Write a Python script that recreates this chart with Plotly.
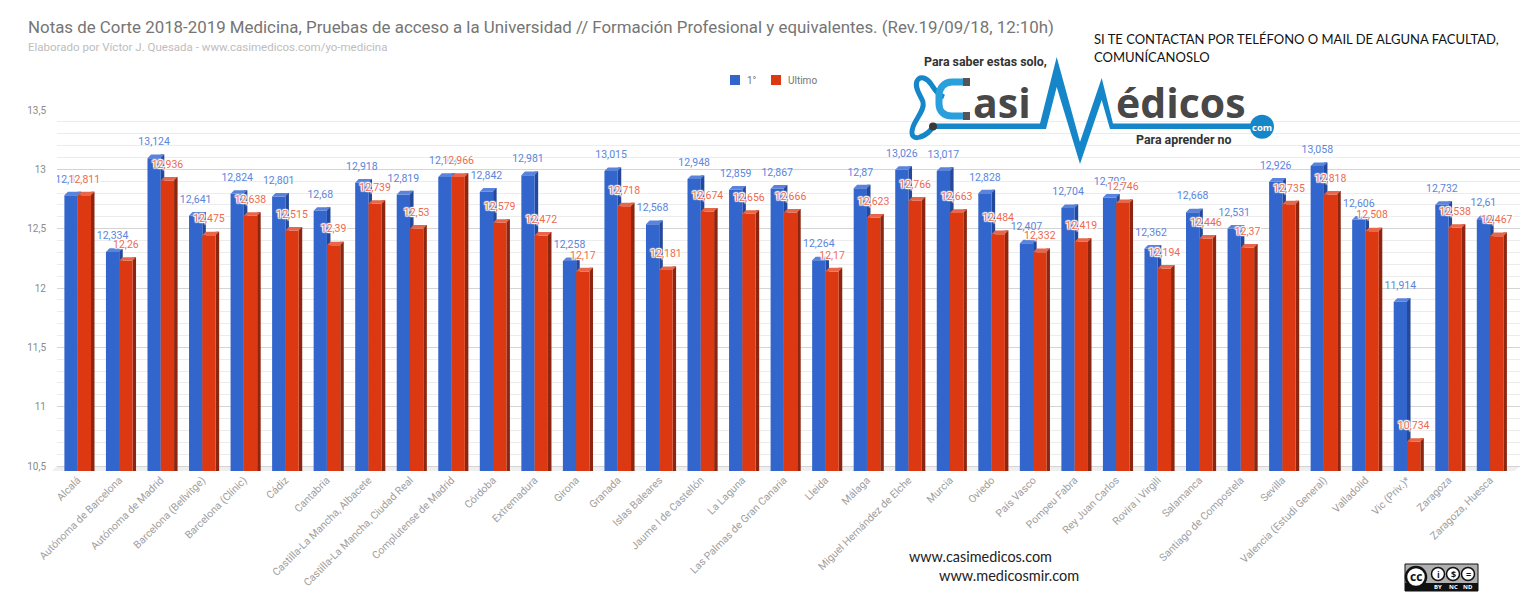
import plotly.graph_objects as go

# datos
universidades = ["Alcalá", "Autónoma de Barcelona", "Autónoma de Madrid", "Barcelona (Bellvitge)", "Barcelona (Clínic)",
	"Cádiz", "Cantabria", "Castilla-La Mancha, Albacete", "Castilla-La Mancha, Ciudad Real", "Complutense de Madrid",
	"Córdoba", "Extremadura", "Girona", "Granada", "Islas Baleares", "Jaume I de Castellón", "La Laguna",
	"Las Palmas de Gran Canaria", "Lleida", "Málaga", "Miguel Hernández de Elche", "Murcia", "Oviedo", "País Vasco",
	"Pompeu Fabra", "Rey Juan Carlos", "Rovira i Virgili", "Salamanca", "Santiago de Compostela", "Sevilla",
	"Valencia (Estudi General)", "Valladolid", "Vic (Priv.)*", "Zaragoza", "Zaragoza, Huesca"]
primero = [12.811, 12.334, 13.124, 12.641, 12.824, 12.801, 12.68, 12.918, 12.819, 12.966, 12.842, 12.981, 12.258,
	13.015, 12.568, 12.948, 12.859, 12.867, 12.264, 12.87, 13.026, 13.017, 12.828, 12.407, 12.704, 12.792, 12.362,
	12.668, 12.531, 12.926, 13.058, 12.606, 11.914, 12.732, 12.61]
ultimo = [12.811, 12.26, 12.936, 12.475, 12.638, 12.515, 12.39, 12.739, 12.53, 12.966, 12.579, 12.472, 12.17,
	12.718, 12.181, 12.674, 12.656, 12.666, 12.17, 12.623, 12.766, 12.663, 12.484, 12.332, 12.419, 12.746, 12.194,
	12.446, 12.37, 12.735, 12.818, 12.508, 10.734, 12.538, 12.467]
y_ticks = [10.5, 11, 11.5, 12, 12.5, 13, 13.5]
y_labels = ["10,5", "11", "11,5", "12", "12,5", "13", "13,5"]

W = 1536
H = 604
#Medidas del efecto 3D
ancho = 0.32
lado = 0.085
prof = 0.03
x = list(range(len(universidades)))

def px(v):
	return v / W

def py(v):
	return 1 - v / H

def etiqueta(v):
	return f"{v:g}".replace(".", ",")

def tapas(valores, x0):
	xs = []
	ys = []
	for i, v in zip(x, valores):
		xs += [i + x0, i + x0 + lado, i + x0 + ancho + lado, i + x0 + ancho, None]
		ys += [v - prof, v, v, v - prof, None]
	return go.Scatter(x=xs, y=ys, mode="lines", fill="toself", showlegend=False, hoverinfo="skip")

fig = go.Figure()

series = [("1°", primero, -ancho, "#3366cc", "#24489a", "#5a84dc", "#5c85dc"),
	("Ultimo", ultimo, 0, "#dc3912", "#8c2610", "#e8674a", "#ee6a4d")]

for nombre, valores, x0, frente, sombra, tapa, texto in series:
	fig.add_trace(go.Bar(x=x, y=valores, offset=x0 + ancho, width=lado, marker=dict(color=sombra, line_width=0),
		showlegend=False, hoverinfo="skip"))
	fig.add_trace(go.Bar(x=x, y=[v - prof for v in valores], offset=x0, width=ancho, name=nombre,
		marker=dict(color=frente, line_width=0), showlegend=False))

for nombre, valores, x0, frente, sombra, tapa, texto in series:
	t = tapas(valores, x0)
	t.update(fillcolor=tapa, line=dict(color=tapa, width=0))
	fig.add_trace(t)

for nombre, valores, x0, frente, sombra, tapa, texto in series:
	halo = "none" if x0 < 0 else "1px 0 1px #fff, -1px 0 1px #fff, 0 1px 1px #fff, 0 -1px 1px #fff, 1px 1px 1px #fff, -1px -1px 1px #fff, 1px -1px 1px #fff, -1px 1px 1px #fff"
	fig.add_trace(go.Scatter(x=[i + x0 + ancho / 2 for i in x], y=[v + 0.1 for v in valores], mode="text",
		text=[etiqueta(v) for v in valores], textposition="middle center",
		textfont=dict(family="Roboto", size=10.5, color=texto, shadow=halo), showlegend=False, hoverinfo="skip"))

fig.update_layout(width=W, height=H, margin=dict(l=0, r=0, t=0, b=0), plot_bgcolor="white", paper_bgcolor="white",
	barmode="overlay", font=dict(family="Roboto", color="#9e9e9e"), showlegend=False)

fig.update_xaxes(domain=[px(57), px(1520)], range=[-0.498, 34.72], tickmode="array", tickvals=x, ticktext=universidades,
	tickangle=-45, tickfont=dict(family="Roboto", size=10.5, color="#a0a0a0"), showgrid=False, zeroline=False,
	ticks="", automargin=False, showline=False)
fig.update_yaxes(domain=[py(471), py(110)], range=[10.458, 13.5], tickmode="array", tickvals=y_ticks, ticktext=y_labels,
	tickfont=dict(family="Roboto", size=10, color="#8a8a8a"), gridcolor="#d4d4d4", gridwidth=1, zeroline=False,
	ticks="", ticklabelstandoff=10, automargin=False,
	minor=dict(tickmode="array", tickvals=[10.5 + 0.1 * n for n in range(31)], showgrid=True, gridcolor="#ececec", gridwidth=1, ticks=""))

def ruta(puntos):
	return "M " + " L ".join(f"{px(a)} {py(b)}" for a, b in puntos)

def curva(texto):
	#convierte una ruta en pixeles a coordenadas de papel
	res = []
	par = True
	for p in texto.split():
		if p.isalpha():
			res.append(p)
		else:
			res.append(str(px(float(p))) if par else str(py(float(p))))
			par = not par
	return " ".join(res)

def rect(a0, b0, a1, b1, color, linea=0):
	return dict(type="rect", x0=px(a0), x1=px(a1), y0=py(b0), y1=py(b1), xref="paper", yref="paper", fillcolor=color,
		line=dict(color="#111111", width=linea))

def circulo(a, b, r, color, linea=0):
	return dict(type="circle", x0=px(a - r), x1=px(a + r), y0=py(b - r), y1=py(b + r), xref="paper", yref="paper",
		fillcolor=color, line=dict(color="#111111", width=linea))

azul = "#1587c9"
shapes = []
#Suelo del grafico
shapes.append(dict(type="path", path=ruta([(57, 466), (1520, 466), (1515, 471), (52, 471)]) + " Z",
	xref="paper", yref="paper", fillcolor="#efefef", line_width=0, layer="below"))
#Leyenda
shapes.append(rect(730, 75, 740, 85, "#3366cc"))
shapes.append(rect(771, 75, 781, 85, "#dc3912"))
#Logo CasiMedicos
linea_ecg = [(935, 123.5), (1040, 123.5), (1056.7, 57), (1080, 142), (1101.7, 78), (1113, 123.5), (1255, 123.5),
	(1255, 129), (1110, 129), (1101.7, 100), (1080, 164), (1056.7, 87), (1046, 129), (935, 129)]
shapes.append(dict(type="path", path=ruta(linea_ecg) + " Z", xref="paper", yref="paper", fillcolor=azul, line_width=0))
shapes.append(dict(type="path", path=curva("M 944 97 C 936 94 934 88 931 84 C 927 78 920 75 917 81 C 914 88 921 96 923 102 C 925 110 916 118 913 127 C 910 136 914 139 920 137 C 927 135 930 131 933 127"),
	xref="paper", yref="paper", line=dict(color=azul, width=5)))
shapes.append(dict(type="path", path=curva("M 966 82 L 952 82 C 944 82 939 88 939 96 L 939 104 C 939 111 944 116 952 116 L 966 116"),
	xref="paper", yref="paper", line=dict(color="#29a0dc", width=7)))
shapes.append(rect(963, 78, 970, 86, "#555555"))
shapes.append(rect(963, 112, 970, 120, "#555555"))
shapes.append(circulo(933, 126.5, 4, "#3a3a3a"))
shapes.append(circulo(1262, 126.7, 12, azul))
#Licencia CC
shapes.append(rect(1405, 564, 1478, 591, "#b0b0b0", 1))
shapes.append(rect(1405, 583, 1478, 591, "#111111"))
shapes.append(circulo(1416, 577, 10, "white", 2.5))
for a in [1438, 1453, 1468]:
	shapes.append(circulo(a, 574, 6.5, "white", 1.5))
fig.update_layout(shapes=shapes)

def nota(texto, a, b, size, color, family="Roboto", anchor="left", peso=None):
	fig.add_annotation(text=texto, x=px(a), y=py(b), xref="paper", yref="paper", xanchor=anchor, yanchor="middle", showarrow=False,
		font=dict(family=family, size=size, color=color, weight=peso))

nota("Notas de Corte 2018-2019 Medicina, Pruebas de acceso a la Universidad // Formación Profesional y equivalentes. (Rev.19/09/18, 12:10h)",
	26, 27, 16.87, "#757575")
nota("Elaborado por Víctor J. Quesada - www.casimedicos.com/yo-medicina", 26, 47, 11.5, "#bdbdbd")
nota("1°", 745, 80, 10, "#757575")
nota("Ultimo", 786, 80, 10, "#757575")
nota("SI TE CONTACTAN POR TELÉFONO O MAIL DE ALGUNA FACULTAD,", 1092, 39, 13, "#111111", "Lato")
nota("COMUNÍCANOSLO", 1092, 57, 13, "#111111", "Lato")
nota("www.casimedicos.com", 907, 556, 14.4, "#222222", "Lato")
nota("www.medicosmir.com", 937, 575, 14.5, "#222222", "Lato")
nota("Para saber estas solo,", 922, 62, 12.4, "#333333", "Roboto", peso="bold")
nota("Para aprender no", 1134, 139, 12.4, "#333333", "Roboto", peso="bold")
nota("asi", 971, 102, 41, "#484848", "Open Sans", peso="bold")
nota("édicos", 1114, 102, 41, "#484848", "Open Sans", peso="bold")
nota("com", 1262, 127, 9.5, "white", "Open Sans", "center", "bold")
nota("cc", 1416, 576, 12, "#111111", "Open Sans", "center", "bold")
nota("i", 1438, 574, 9, "#111111", "Open Sans", "center", "bold")
nota("$", 1453, 574, 9, "#111111", "Open Sans", "center", "bold")
nota("=", 1468, 574, 9, "#111111", "Open Sans", "center", "bold")
nota("BY", 1438, 587, 6, "white", "Open Sans", "center", "bold")
nota("NC", 1453, 587, 6, "white", "Open Sans", "center", "bold")
nota("ND", 1468, 587, 6, "white", "Open Sans", "center", "bold")

fig.write_html("out.html", config={"displayModeBar": False}, post_script="document.body.style.margin='0';")
